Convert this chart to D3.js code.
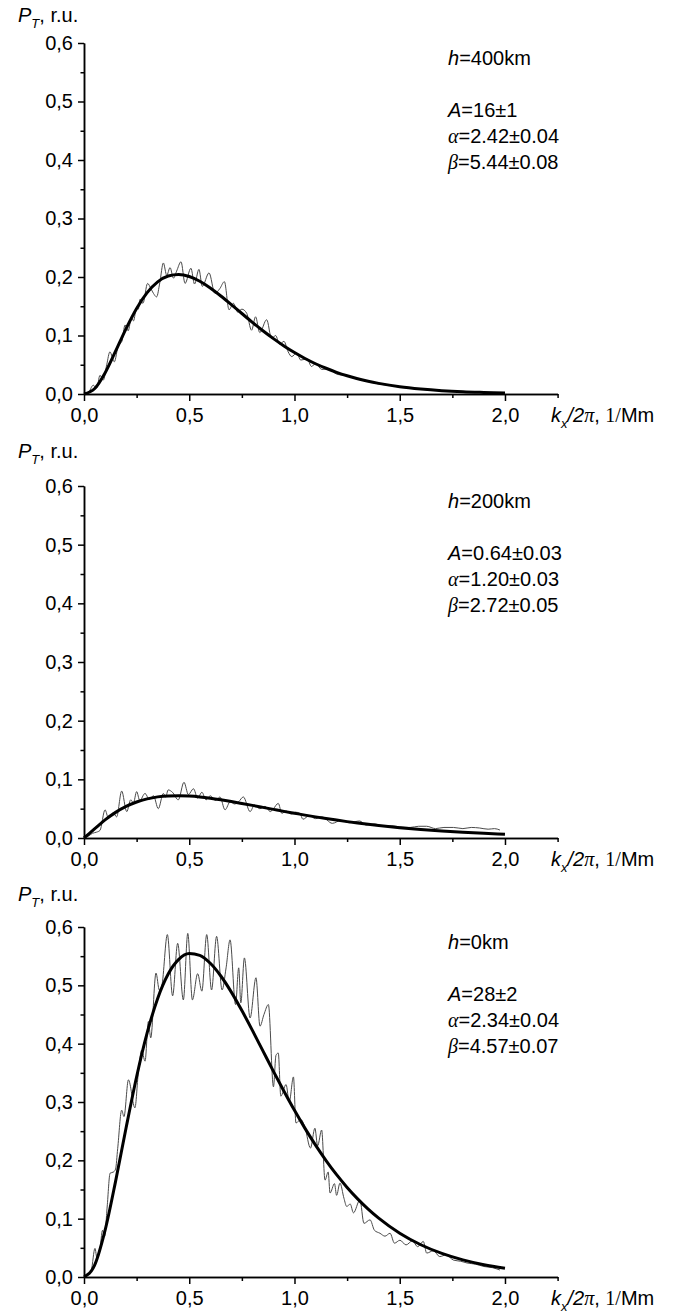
<!DOCTYPE html>
<html>
<head>
<meta charset="utf-8">
<script src="https://cdn.jsdelivr.net/npm/d3@7"></script>
<style>
  body { margin: 0; background: #fff; }
  text { font-family: "Liberation Sans", Arial, sans-serif; fill: #000; }
</style>
</head>
<body>
<svg id="chart" width="684" height="1316"></svg>
<script>
// Fit curves, read at fixed k/2pi steps
const fitK = [0,0.05,0.1,0.15,0.2,0.25,0.3,0.35,0.4,0.45,0.5,0.55,0.6,0.65,0.7,0.75,0.8,0.85,0.9,0.95,1.0,1.05,1.1,1.15,1.2,1.25,1.3,1.35,1.4,1.5,1.6,1.7,1.8,1.9,2.0];
const fit400 = [0,0.0089,0.036,0.0732,0.1119,0.1463,0.1732,0.1917,0.2017,0.2043,0.2009,0.1928,0.1813,0.1676,0.1528,0.1376,0.1225,0.1081,0.0946,0.0821,0.0708,0.0607,0.0517,0.044,0.0371,0.0312,0.0261,0.0218,0.0182,0.0124,0.0085,0.0057,0.0038,0.0026,0.0016];
const fit200 = [0,0.0154,0.0308,0.0437,0.0538,0.0614,0.0667,0.0701,0.0718,0.0722,0.0715,0.0700,0.0678,0.0651,0.0621,0.0589,0.0556,0.0522,0.0488,0.0454,0.0422,0.0390,0.0360,0.0332,0.0305,0.0279,0.0255,0.0233,0.0213,0.0176,0.0145,0.0119,0.0097,0.0079,0.0064];
const fit0 = [0,0.0198,0.0798,0.164,0.2559,0.3433,0.4184,0.4776,0.5194,0.5445,0.5545,0.5514,0.5378,0.516,0.4884,0.4567,0.4228,0.3876,0.3525,0.3185,0.2857,0.2548,0.2261,0.1997,0.1754,0.1536,0.134,0.1164,0.1009,0.0751,0.0553,0.0404,0.0293,0.021,0.015];

// Measured spectra (thin grey lines)
const noisyK400 = [0,0.02,0.044,0.06,0.076,0.092,0.108,0.123,0.144,0.163,0.18,0.195,0.21,0.225,0.235,0.25,0.258,0.266,0.28,0.302,0.318,0.33,0.345,0.36,0.377,0.393,0.409,0.425,0.44,0.461,0.48,0.508,0.525,0.546,0.562,0.594,0.622,0.645,0.667,0.689,0.71,0.73,0.75,0.773,0.796,0.815,0.835,0.868,0.891,0.91,0.93,0.95,0.97,0.987,1.01,1.03,1.06,1.081,1.1,1.13,1.16,1.2,1.25,1.3,1.35,1.4,1.45,1.5,1.55,1.6,1.65,1.7,1.75,1.8,1.85,1.9,1.95,1.98];
const noisyP400 = [0,0.002,0.015,0.01,0.032,0.024,0.05,0.072,0.055,0.083,0.09,0.118,0.108,0.13,0.125,0.148,0.145,0.162,0.155,0.189,0.18,0.172,0.166,0.19,0.224,0.203,0.216,0.198,0.21,0.226,0.189,0.215,0.188,0.213,0.184,0.207,0.172,0.18,0.192,0.144,0.155,0.14,0.145,0.138,0.109,0.132,0.105,0.127,0.095,0.1,0.085,0.09,0.072,0.064,0.07,0.058,0.06,0.047,0.052,0.042,0.043,0.034,0.031,0.025,0.022,0.017,0.015,0.012,0.011,0.008,0.007,0.006,0.005,0.004,0.003,0.003,0.002,0.002];

const noisyK200 = [0,0.02,0.04,0.06,0.076,0.1,0.116,0.139,0.155,0.179,0.203,0.222,0.235,0.25,0.265,0.29,0.31,0.33,0.353,0.377,0.388,0.4,0.42,0.448,0.475,0.496,0.52,0.54,0.56,0.58,0.6,0.625,0.646,0.67,0.695,0.715,0.735,0.757,0.789,0.81,0.835,0.86,0.885,0.9,0.923,0.94,0.96,0.985,1.005,1.026,1.04,1.07,1.1,1.13,1.18,1.22,1.26,1.31,1.34,1.38,1.42,1.46,1.5,1.55,1.59,1.628,1.67,1.71,1.755,1.8,1.84,1.88,1.92,1.95,1.976];
const noisyP200 = [0,0.003,0.008,0.01,0.013,0.048,0.034,0.043,0.036,0.08,0.045,0.065,0.06,0.079,0.064,0.076,0.066,0.072,0.05,0.076,0.07,0.082,0.078,0.065,0.095,0.074,0.084,0.068,0.078,0.065,0.072,0.064,0.07,0.048,0.062,0.058,0.062,0.07,0.045,0.056,0.05,0.054,0.045,0.05,0.059,0.042,0.046,0.041,0.044,0.042,0.032,0.038,0.033,0.036,0.025,0.03,0.026,0.029,0.022,0.024,0.02,0.021,0.019,0.018,0.02,0.02,0.016,0.018,0.018,0.016,0.018,0.017,0.015,0.016,0.0136];

const noisyK0 = [0,0.02,0.035,0.052,0.062,0.075,0.088,0.098,0.11,0.124,0.14,0.15,0.16,0.179,0.19,0.211,0.242,0.258,0.274,0.29,0.306,0.317,0.342,0.358,0.37,0.396,0.421,0.445,0.472,0.493,0.515,0.54,0.56,0.583,0.606,0.63,0.656,0.675,0.694,0.72,0.735,0.745,0.762,0.789,0.817,0.836,0.855,0.876,0.9,0.912,0.923,0.935,0.96,0.975,0.995,1.007,1.03,1.05,1.076,1.097,1.11,1.129,1.145,1.16,1.169,1.19,1.2,1.216,1.235,1.248,1.265,1.28,1.311,1.33,1.359,1.38,1.406,1.43,1.454,1.475,1.501,1.53,1.56,1.585,1.612,1.628,1.66,1.69,1.72,1.755,1.79,1.82,1.86,1.9,1.94,1.976];
const noisyP0 = [0,0.004,0.012,0.049,0.032,0.045,0.08,0.07,0.12,0.178,0.18,0.185,0.22,0.286,0.275,0.338,0.29,0.35,0.389,0.37,0.438,0.41,0.521,0.492,0.5,0.587,0.482,0.572,0.475,0.589,0.475,0.52,0.49,0.587,0.492,0.584,0.492,0.53,0.578,0.467,0.53,0.47,0.547,0.444,0.513,0.43,0.45,0.467,0.326,0.38,0.384,0.31,0.33,0.3,0.343,0.264,0.27,0.256,0.221,0.255,0.225,0.252,0.166,0.18,0.144,0.16,0.14,0.161,0.135,0.121,0.125,0.11,0.132,0.092,0.098,0.08,0.075,0.07,0.075,0.058,0.063,0.055,0.062,0.052,0.061,0.041,0.045,0.035,0.038,0.029,0.027,0.024,0.022,0.018,0.016,0.012];

// Tick values and annotation texts
const yMajor = [0,0.1,0.2,0.3,0.4,0.5,0.6];
const yMinor = [0.05,0.15,0.25,0.35,0.45,0.55];
const xMajor = [0,0.5,1.0,1.5,2.0];
const xMinor = [0.25,0.75,1.25,1.75,2.25];
const heights = ["400km","200km","0km"];
const fitA = ["16±1","0.64±0.03","28±2"];
const fitAlpha = ["2.42±0.04","1.20±0.03","2.34±0.04"];
const fitBeta = ["5.44±0.08","2.72±0.05","4.57±0.07"];

const panels = [
  { top: 43, bottom: 394, title: 22, fit: fit400, nk: noisyK400, np: noisyP400 },
  { top: 486, bottom: 838, title: 458, fit: fit200, nk: noisyK200, np: noisyP200 },
  { top: 927, bottom: 1277, title: 901, fit: fit0, nk: noisyK0, np: noisyP0 }
];

const svg = d3.select("#chart");
const fmt = d => d3.format(".1f")(d).replace(".", ",");
const x = d3.scaleLinear().domain([0, 2.25]).range([84, 557.6]);

panels.forEach((p, i) => {
  const y = d3.scaleLinear().domain([0, 0.6]).range([p.bottom, p.top]);
  const g = svg.append("g");

  // axes
  const yAxis = g.append("g").attr("transform", "translate(84,0)")
    .call(d3.axisLeft(y).tickValues(yMajor).tickFormat(fmt).tickSize(6).tickPadding(5).tickSizeOuter(0));
  g.append("g").attr("transform", "translate(84,0)")
    .call(d3.axisLeft(y).tickValues(yMinor).tickFormat("").tickSize(3.5).tickSizeOuter(0));
  const xAxis = g.append("g").attr("transform", `translate(0,${p.bottom})`)
    .call(d3.axisBottom(x).tickValues(xMajor).tickFormat(fmt).tickSize(7).tickPadding(7).tickSizeOuter(0));
  g.append("g").attr("transform", `translate(0,${p.bottom})`)
    .call(d3.axisBottom(x).tickValues(xMinor).tickFormat("").tickSize(4).tickSizeOuter(0));
  g.selectAll(".domain, .tick line").attr("stroke", "#000").attr("stroke-width", 1.5);
  g.selectAll(".tick text").attr("font-size", 20).attr("font-family", "Liberation Sans, Arial, sans-serif").attr("fill", "#000");

  // measured (thin) and fit (thick) curves
  const line = d3.line().x(d => x(d[0])).y(d => y(d[1])).curve(d3.curveMonotoneX);
  g.append("path").datum(d3.zip(p.nk, p.np))
    .attr("d", line).attr("fill", "none").attr("stroke", "#4a4a4a").attr("stroke-width", 1);
  g.append("path").datum(d3.zip(fitK, p.fit))
    .attr("d", line).attr("fill", "none").attr("stroke", "#000").attr("stroke-width", 3);

  // y title
  const yt = g.append("text").attr("x", 18).attr("y", p.title).attr("font-size", 20);
  yt.append("tspan").attr("font-style", "italic").text("P");
  yt.append("tspan").attr("font-style", "italic").attr("font-size", 13).attr("dy", 6).text("T");
  yt.append("tspan").attr("dy", -6).text(", r.u.");

  // x title
  const xt = g.append("text").attr("x", 551).attr("y", p.bottom + 28).attr("font-size", 20);
  xt.append("tspan").attr("font-style", "italic").text("k");
  xt.append("tspan").attr("font-style", "italic").attr("font-size", 13).attr("dy", 6).text("x");
  xt.append("tspan").attr("dy", -6).attr("font-style", "italic").text("/2");
  xt.append("tspan").attr("font-family", "Liberation Serif, Times New Roman, serif").attr("font-style", "italic").text("π");
  xt.append("tspan").text(", ");
  xt.append("tspan").attr("font-family", "Liberation Serif, Times New Roman, serif").text("1/");
  xt.append("tspan").text("Mm");

  // annotations
  const ax = 448, t0 = p.top + 22;
  const h = g.append("text").attr("x", ax).attr("y", t0).attr("font-size", 20);
  h.append("tspan").attr("font-style", "italic").text("h");
  h.append("tspan").text("=" + heights[i]);
  [["A", fitA[i]], ["α", fitAlpha[i]], ["β", fitBeta[i]]].forEach((r, j) => {
    const t = g.append("text").attr("x", ax).attr("y", t0 + 52 + j * 26).attr("font-size", 20);
    t.append("tspan").attr("font-style", "italic")
      .attr("font-family", j === 0 ? null : "Liberation Serif, Times New Roman, serif").text(r[0]);
    t.append("tspan").text("=" + r[1]);
  });
});
</script>
</body>
</html>
